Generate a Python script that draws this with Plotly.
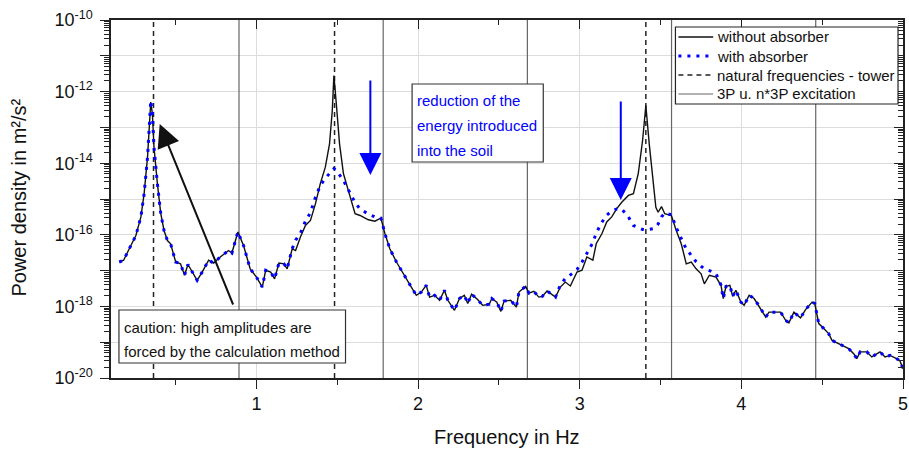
import plotly.graph_objects as go

# ---------------- data ----------------
freq_hz = [0.151, 0.178, 0.213, 0.254, 0.285, 0.305, 0.326, 0.336, 0.346, 0.356,
           0.366, 0.387, 0.408, 0.428, 0.449, 0.469, 0.500, 0.530, 0.555, 0.576,
           0.602, 0.633, 0.664, 0.704, 0.735, 0.776, 0.827, 0.848, 0.885, 0.920,
           0.961, 1.000, 1.036, 1.057, 1.088, 1.112, 1.139, 1.170, 1.190, 1.221,
           1.242, 1.272, 1.303, 1.334, 1.365, 1.395, 1.426, 1.452, 1.469, 1.479,
           1.494, 1.514, 1.538, 1.569, 1.610, 1.641, 1.692, 1.733, 1.770, 1.795,
           1.825, 1.866, 1.918, 1.958, 1.989, 2.020, 2.050, 2.071, 2.102, 2.133,
           2.163, 2.184, 2.225, 2.256, 2.286, 2.307, 2.331, 2.368, 2.399, 2.440,
           2.456, 2.487, 2.512, 2.532, 2.573, 2.608, 2.624, 2.665, 2.686, 2.716,
           2.747, 2.768, 2.798, 2.850, 2.880, 2.911, 2.942, 2.983, 3.014, 3.044,
           3.081, 3.102, 3.137, 3.167, 3.198, 3.229, 3.260, 3.301, 3.332, 3.362,
           3.389, 3.409, 3.430, 3.454, 3.471, 3.485, 3.506, 3.526, 3.567, 3.597,
           3.628, 3.659, 3.690, 3.720, 3.751, 3.771, 3.802, 3.843, 3.874, 3.888,
           3.905, 3.929, 3.946, 3.966, 3.997, 4.017, 4.048, 4.079, 4.120, 4.151,
           4.171, 4.212, 4.243, 4.274, 4.294, 4.325, 4.346, 4.366, 4.397, 4.438,
           4.454, 4.479, 4.510, 4.540, 4.561, 4.602, 4.633, 4.664, 4.695, 4.714,
           4.735, 4.776, 4.807, 4.837, 4.858, 4.889, 4.920, 4.960, 4.980, 5.000]

# log10 of power density [m^2/s^2], without absorber
without_absorber_log10 = [
    -16.76, -16.71, -16.39, -16.02, -15.50, -14.85, -13.83, -13.08, -12.29, -12.62,
    -13.55, -14.57, -15.41, -15.88, -16.16, -16.25, -16.76, -16.81, -17.13, -16.83,
    -17.04, -17.27, -17.04, -16.71, -16.79, -16.62, -16.44, -16.51, -15.92, -16.30,
    -16.95, -17.18, -17.46, -16.99, -17.04, -17.23, -16.79, -16.81, -16.95, -16.39,
    -16.44, -16.06, -15.74, -15.60, -15.13, -14.57, -14.11, -13.46, -12.53, -11.55,
    -12.34, -13.46, -14.29, -14.76, -15.41, -15.46, -15.58, -15.62, -15.53, -15.97,
    -16.39, -16.76, -17.18, -17.46, -17.69, -17.60, -17.41, -17.74, -17.69, -17.83,
    -17.55, -17.83, -18.11, -17.78, -17.69, -17.92, -17.66, -17.81, -17.97, -17.94,
    -17.78, -17.88, -18.14, -17.85, -17.83, -18.02, -17.60, -17.44, -17.63, -17.58,
    -17.74, -17.72, -17.57, -17.74, -17.46, -17.32, -17.43, -17.04, -16.99, -16.62,
    -16.71, -16.25, -15.97, -15.64, -15.50, -15.27, -15.09, -14.90, -14.85, -14.29,
    -13.36, -12.39, -13.46, -14.48, -15.23, -15.37, -15.21, -15.41, -15.46, -15.88,
    -16.25, -16.81, -16.76, -16.95, -17.09, -17.37, -17.13, -17.18, -17.41, -17.78,
    -17.44, -17.41, -17.72, -17.55, -17.88, -17.97, -17.69, -17.78, -18.06, -18.30,
    -18.16, -18.16, -18.16, -18.39, -18.46, -18.16, -18.25, -18.32, -18.09, -17.88,
    -17.92, -18.48, -18.62, -18.76, -18.95, -19.04, -19.12, -19.18, -19.32, -19.46,
    -19.27, -19.27, -19.41, -19.32, -19.27, -19.41, -19.37, -19.46, -19.51, -19.74]

# log10 of power density [m^2/s^2], with absorber
with_absorber_log10 = [
    -16.76, -16.71, -16.39, -16.02, -15.50, -14.85, -13.83, -13.08, -12.25, -12.62,
    -13.55, -14.57, -15.41, -15.88, -16.16, -16.25, -16.76, -16.81, -17.13, -16.83,
    -17.04, -17.27, -17.04, -16.71, -16.79, -16.62, -16.44, -16.51, -15.92, -16.30,
    -16.95, -17.18, -17.46, -16.99, -17.04, -17.23, -16.79, -16.81, -16.95, -16.39,
    -16.15, -15.95, -15.62, -15.38, -14.95, -14.62, -14.42, -14.30, -14.20, -14.15,
    -14.20, -14.33, -14.48, -14.75, -15.10, -15.28, -15.42, -15.50, -15.53, -15.97,
    -16.39, -16.76, -17.18, -17.46, -17.69, -17.60, -17.41, -17.74, -17.69, -17.83,
    -17.55, -17.83, -18.11, -17.78, -17.69, -17.92, -17.66, -17.81, -17.97, -17.94,
    -17.78, -17.88, -18.14, -17.85, -17.83, -18.02, -17.60, -17.44, -17.63, -17.58,
    -17.74, -17.72, -17.57, -17.74, -17.40, -17.22, -17.12, -16.97, -16.76, -16.50,
    -16.22, -15.95, -15.65, -15.45, -15.34, -15.28, -15.28, -15.50, -15.74, -15.80,
    -15.85, -15.86, -15.85, -15.83, -15.78, -15.70, -15.50, -15.39, -15.44, -15.80,
    -16.10, -16.40, -16.57, -16.75, -16.88, -16.95, -17.00, -17.08, -17.41, -17.78,
    -17.44, -17.41, -17.72, -17.55, -17.88, -17.97, -17.69, -17.78, -18.06, -18.30,
    -18.16, -18.16, -18.16, -18.39, -18.46, -18.16, -18.25, -18.32, -18.09, -17.88,
    -17.92, -18.48, -18.62, -18.76, -18.95, -19.04, -19.12, -19.18, -19.32, -19.46,
    -19.27, -19.27, -19.41, -19.32, -19.27, -19.41, -19.37, -19.46, -19.51, -19.74]

natural_freqs_tower = [0.363, 1.483, 3.409]
excitation_3p = [0.892, 1.784, 2.676, 3.568, 4.460]

x_ticks = [1, 2, 3, 4, 5]
y_decades = list(range(-20, -9))
y_label_decades = [-20, -18, -16, -14, -12, -10]

legend_labels = ["without absorber", "with absorber",
                 "natural frequencies - tower", "3P u. n*3P excitation"]

X_RANGE = [0.1, 5.0]
Y_RANGE = [-20, -10]

# ---------------- styles ----------------
FONT = "Liberation Sans, Arial, sans-serif"
W, H = 909, 451
ML, MR, MT, MB = 111, 1, 20, 73
PW, PH = W - ML - MR, H - MT - MB

STYLE_WITHOUT = dict(color="#111111", width=1.4)
STYLE_WITH = dict(color="#0000ff", width=3, dash="3px,6px")
STYLE_NAT = dict(color="#222222", width=1.5, dash="5px,4px")
STYLE_3P = dict(color="#666666", width=1.2)


def px_to_paper(px, py):
    return (px - ML) / PW, (H - MB - py) / PH


without_psd = [10 ** v for v in without_absorber_log10]
with_psd = [10 ** v for v in with_absorber_log10]


def vlines(xs):
    vx, vy = [], []
    for f in xs:
        vx += [f, f, None]
        vy += [10 ** Y_RANGE[0], 10 ** Y_RANGE[1], None]
    return vx, vy


fig = go.Figure()

nx, ny = vlines(natural_freqs_tower)
ex, ey = vlines(excitation_3p)

fig.add_trace(go.Scatter(x=ex, y=ey, mode="lines", name=legend_labels[3],
                         line=STYLE_3P, hoverinfo="skip"))
fig.add_trace(go.Scatter(x=nx, y=ny, mode="lines", name=legend_labels[2],
                         line=STYLE_NAT, hoverinfo="skip"))
fig.add_trace(go.Scatter(x=freq_hz, y=without_psd, mode="lines", name=legend_labels[0],
                         line=STYLE_WITHOUT))
fig.add_trace(go.Scatter(x=freq_hz, y=with_psd, mode="lines", name=legend_labels[1],
                         line=STYLE_WITH))
# dummy trace so the mirrored (top/right) axes get drawn
fig.add_trace(go.Scatter(x=[None], y=[None], xaxis="x2", yaxis="y2",
                         showlegend=False, hoverinfo="skip"))

minor_y = [k * 10.0 ** d for d in range(-20, -10) for k in range(2, 10)]
minor_x = [0.5, 1.5, 2.5, 3.5, 4.5]

ticktext_y = [f"10<sup>{d}</sup>" if d in y_label_decades else "" for d in y_decades]
tickvals_y = [10.0 ** d for d in y_decades]

fig.update_layout(
    width=W, height=H,
    margin=dict(l=ML, r=MR, t=MT, b=MB),
    paper_bgcolor="white", plot_bgcolor="white",
    font=dict(family=FONT, size=18, color="#111111"),
    showlegend=False,
    xaxis=dict(range=X_RANGE, tickvals=x_ticks, ticks="outside", ticklen=9,
               tickwidth=1.2, tickcolor="#222222", ticklabeloverflow="allow",
               showline=True, linecolor="#222222", linewidth=1.5, mirror=True,
               showgrid=True, gridcolor="#dcdcdc", gridwidth=1, zeroline=False,
               minor=dict(tickvals=minor_x, ticks="outside", ticklen=5,
                          tickcolor="#222222", showgrid=False),
               tickfont=dict(size=18)),
    yaxis=dict(type="log", range=Y_RANGE, tickvals=tickvals_y, ticktext=ticktext_y,
               ticks="outside", ticklen=9, tickwidth=1.2, tickcolor="#222222",
               showline=True, linecolor="#222222", linewidth=1.5, mirror=True,
               showgrid=True, gridcolor="#dcdcdc", gridwidth=1, zeroline=False,
               minor=dict(tickvals=minor_y, ticks="outside", ticklen=5,
                          tickcolor="#222222", showgrid=False),
               tickfont=dict(size=18), ticklabelstandoff=4),
    xaxis2=dict(overlaying="x", side="top", anchor="y", range=X_RANGE,
                tickvals=x_ticks, ticks="inside", ticklen=9, tickwidth=1.2,
                tickcolor="#222222", showticklabels=False, showgrid=False,
                showline=False, zeroline=False,
                minor=dict(tickvals=minor_x, ticks="inside", ticklen=5,
                           tickcolor="#222222", showgrid=False)),
    yaxis2=dict(overlaying="y", side="right", anchor="x", type="log", range=Y_RANGE,
                tickvals=tickvals_y, ticks="inside", ticklen=9, tickwidth=1.2,
                tickcolor="#222222", showticklabels=False, showgrid=False,
                showline=False, zeroline=False,
                minor=dict(tickvals=minor_y, ticks="inside", ticklen=5,
                           tickcolor="#222222", showgrid=False)),
)

annotations = []
shapes = []

# axis titles
tx, ty = px_to_paper(510, 437)
annotations.append(dict(text="Frequency in Hz", xref="paper", yref="paper", x=tx, y=ty,
                        xanchor="center", yanchor="middle", showarrow=False,
                        font=dict(size=20, family=FONT, color="#111111")))
tx, ty = px_to_paper(18, 198)
annotations.append(dict(text="Power density in m²/s²", xref="paper", yref="paper",
                        x=tx, y=ty, xanchor="center", yanchor="middle", textangle=-90,
                        showarrow=False, font=dict(size=20, family=FONT, color="#111111")))


def box(x0, y0, x1, y1, color="#333333"):
    a0, b0 = px_to_paper(x0, y0)
    a1, b1 = px_to_paper(x1, y1)
    shapes.append(dict(type="rect", xref="paper", yref="paper", x0=a0, y0=b1, x1=a1, y1=b0,
                       line=dict(color=color, width=1.2), fillcolor="white", layer="above"))


def text_line(txt, px, py, color):
    a, b = px_to_paper(px, py)
    annotations.append(dict(text=txt, xref="paper", yref="paper", x=a, y=b,
                            xanchor="left", yanchor="middle", showarrow=False,
                            font=dict(size=15, family=FONT, color=color)))


def sample_line(px0, px1, py, style):
    a0, b = px_to_paper(px0, py)
    a1, _ = px_to_paper(px1, py)
    ln = dict(color=style["color"], width=style["width"])
    if "dash" in style:
        ln["dash"] = style["dash"]
    shapes.append(dict(type="line", xref="paper", yref="paper", x0=a0, x1=a1, y0=b, y1=b,
                       line=ln, layer="above"))


# legend (drawn manually to match the compact entry spacing)
box(679, 27, 903, 104, color="#222222")
legend_styles = [STYLE_WITHOUT, STYLE_WITH, STYLE_NAT, STYLE_3P]
for i, (lab, st) in enumerate(zip(legend_labels, legend_styles)):
    yy = 37 + 19 * i
    sample_line(682, 717, yy, st)
    text_line(lab, 719, yy, "#111111")

# text boxes
box(119, 310, 347, 363)
text_line("caution: high amplitudes are", 122, 327, "#111111")
text_line("forced by the calculation method", 122, 351, "#111111")

box(414, 84, 546, 162)
for i, t in enumerate(["reduction of the", "energy introduced", "into the soil"]):
    text_line(t, 417, 100 + 25 * i, "#0000ff")


# arrows
def to_data(px, py):
    xd = X_RANGE[0] + (px - ML) / PW * (X_RANGE[1] - X_RANGE[0])
    yd = Y_RANGE[1] - (py - MT) / PH * (Y_RANGE[1] - Y_RANGE[0])
    return xd, yd


hx, hy = to_data(160, 124)
annotations.append(dict(x=hx, y=hy, xref="x", yref="y", ax=74, ay=182, text="",
                        showarrow=True, arrowhead=2, arrowsize=2.3, arrowwidth=2,
                        arrowcolor="#111111", standoff=0))
hx, hy = to_data(372, 175)
annotations.append(dict(x=hx, y=hy, xref="x", yref="y", ax=0, ay=-96, text="",
                        showarrow=True, arrowhead=2, arrowsize=2.2, arrowwidth=2,
                        arrowcolor="#0000ff", standoff=0))
hx, hy = to_data(624, 200)
annotations.append(dict(x=hx, y=hy, xref="x", yref="y", ax=0, ay=-100, text="",
                        showarrow=True, arrowhead=2, arrowsize=2.2, arrowwidth=2,
                        arrowcolor="#0000ff", standoff=0))

fig.update_layout(annotations=annotations, shapes=shapes)

fig.write_html("out.html")
